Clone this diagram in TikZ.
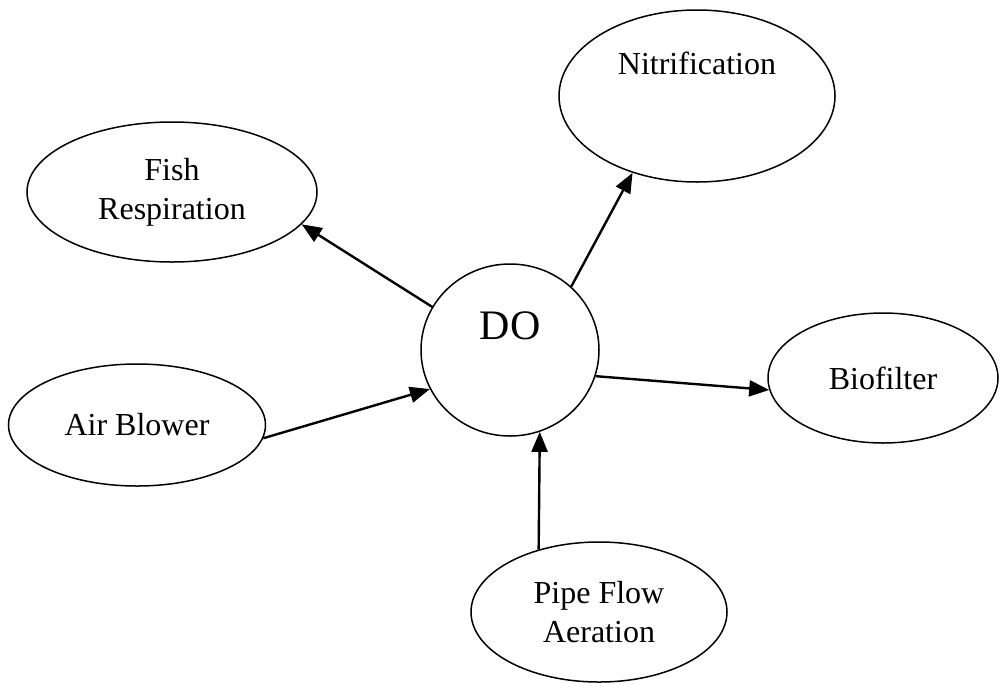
\documentclass[tikz,border=0pt]{standalone}
\usepackage{fontspec}
\setmainfont{Liberation Serif}
\usetikzlibrary{shapes.geometric,arrows.meta}
\begin{document}
\begin{tikzpicture}[x=1pt,y=-1pt,
  bub/.style={draw,ellipse,line width=1.5pt,inner sep=0pt,align=center,
    font=\fontsize{32}{39}\selectfont},
  conn/.style={line width=2.4pt,-{Triangle[length=20pt,width=16pt]}}]
\useasboundingbox (0,0) rectangle (1000,683);
\node[bub,minimum width=178pt,minimum height=172pt,
  label={[font=\fontsize{42}{48}\selectfont,yshift=24pt]center:DO}] (do) at (510,350) {};
\node[bub,minimum width=290pt,minimum height=140pt] (fish) at (172,192) {Fish\\Respiration};
\node[bub,minimum width=276pt,minimum height=172pt,
  label={[font=\fontsize{32}{39}\selectfont,yshift=33pt]center:Nitrification}] (nitr) at (697,96) {};
\node[bub,minimum width=230pt,minimum height=130pt] (bio) at (883,378) {Biofilter};
\node[bub,minimum width=257pt,minimum height=122pt] (air) at (137,425) {Air Blower};
\node[bub,minimum width=256pt,minimum height=140pt] (pipe) at (599,612) {Pipe Flow\\Aeration};
\draw[conn] (do.151.7) -- (fish.-14.9);
\draw[conn] (do.46) -- (nitr.-130);
\draw[conn] (do.-17.6) -- (bio.186.3);
\draw[conn] (air.-6.7) -- (do.206.3);
\draw[conn] (pipe.134.2) -- (do.-70.4);
\end{tikzpicture}
\end{document}
